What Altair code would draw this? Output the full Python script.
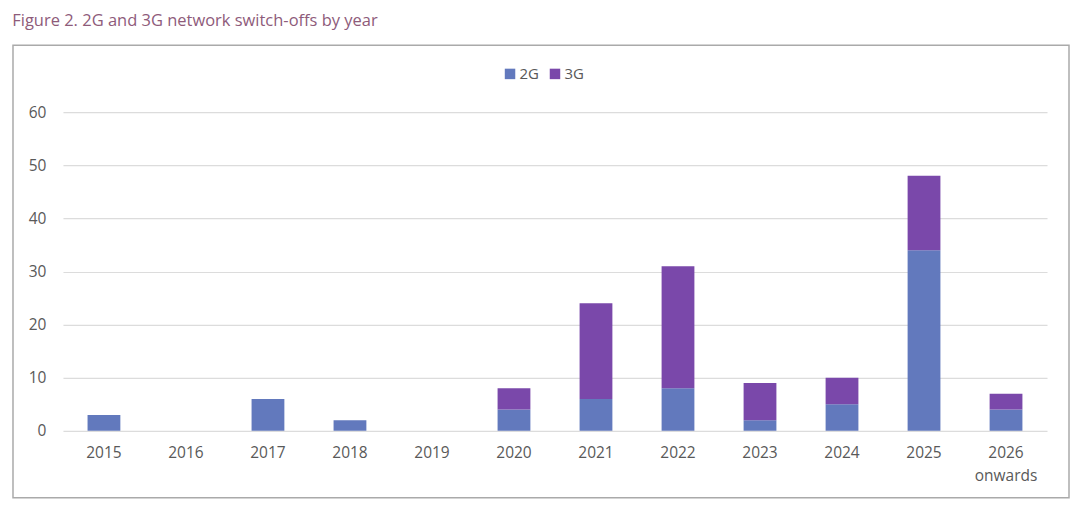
import altair as alt
import pandas as pd

years = ["2015", "2016", "2017", "2018", "2019", "2020", "2021", "2022",
         "2023", "2024", "2025", "2026 onwards"]
g2 = [3, 0, 6, 2, 0, 4, 6, 8, 2, 5, 34, 4]
g3 = [0, 0, 0, 0, 0, 4, 18, 23, 7, 5, 14, 3]
series = ["2G", "3G"]
colors = ["#6279bd", "#7a48aa"]

rows = []
for y, a, b in zip(years, g2, g3):
    rows.append({"year": y, "type": "2G", "value": a, "ord": 0})
    rows.append({"year": y, "type": "3G", "value": b, "ord": 1})
df = pd.DataFrame(rows)

W, H = 985, 319
FONT = "Open Sans"

bars = alt.Chart(df).mark_bar().encode(
    x=alt.X("year:N", sort=years, title=None,
            scale=alt.Scale(paddingInner=0.6, paddingOuter=0.3),
            axis=alt.Axis(labelAngle=0, labelFontSize=15.5, labelColor="#595959",
                          labelFont=FONT, domain=False, ticks=False, labelPadding=15,
                          labelExpr="datum.value == '2026 onwards' ? ['2026', 'onwards'] : datum.label",
                          labelLineHeight=23)),
    y=alt.Y("value:Q", stack="zero", title=None,
            scale=alt.Scale(domain=[0, 60]),
            axis=alt.Axis(values=[0, 10, 20, 30, 40, 50, 60], labelFontSize=15.5,
                          labelColor="#595959", labelFont=FONT, domain=False,
                          ticks=False, labelPadding=17, gridColor="#dcdcdc",
                          gridWidth=1.2)),
    color=alt.Color("type:N", scale=alt.Scale(domain=series, range=colors),
                    legend=alt.Legend(title=None, orient="none", direction="horizontal",
                                      legendX=440, legendY=-46, symbolType="square",
                                      symbolSize=110, symbolStrokeWidth=0,
                                      labelFontSize=15, labelColor="#595959",
                                      labelFont=FONT, columnPadding=8,
                                      labelOffset=2)),
    order=alt.Order("ord:Q"),
)

frame = alt.Chart(pd.DataFrame({"f": [0]})).mark_rect(
    fill=None, stroke="#aaaaaa", strokeWidth=1.5
).encode(
    x=alt.value(-50), x2=alt.value(W + 22),
    y=alt.value(-67), y2=alt.value(H + 67),
)

chart = alt.layer(frame, bars).properties(
    width=W, height=H,
    padding={"left": 4, "top": 4, "right": 2, "bottom": 4},
    title=alt.TitleParams("Figure 2. 2G and 3G network switch-offs by year",
                          anchor="start", fontSize=16.5, font=FONT,
                          fontWeight="normal", color="#8e5b7a", offset=15),
).configure_view(stroke=None)

chart.save("out.html", embed_options={"renderer": "svg", "actions": False})
